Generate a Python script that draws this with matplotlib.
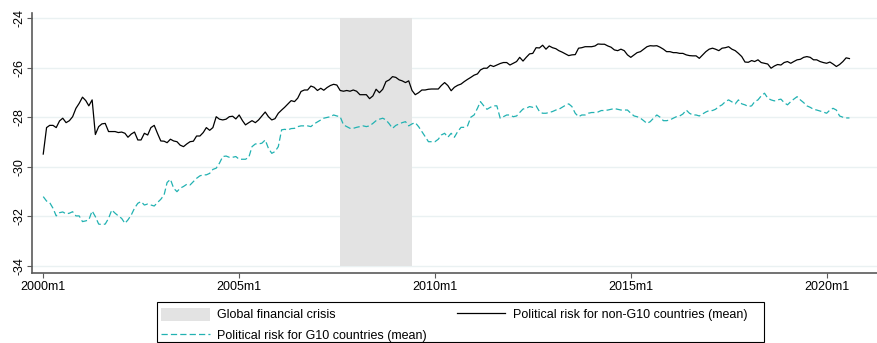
import pandas as pd
import matplotlib
matplotlib.use('Agg')
from matplotlib import pyplot as plt
from matplotlib.patches import Patch, Rectangle
from matplotlib.lines import Line2D

#
# monthly means
#
non_g10_2000s = [
    -29.49, -28.42, -28.33, -28.33, -28.42, -28.15, -28.04, -28.22, -28.14, -27.98,
    -27.64, -27.44, -27.19, -27.33, -27.54, -27.30, -28.70, -28.38, -28.27, -28.25,
    -28.58, -28.58, -28.58, -28.62, -28.60, -28.65, -28.81, -28.68, -28.60, -28.92,
    -28.92, -28.65, -28.72, -28.42, -28.33, -28.65, -28.96, -28.97, -29.03, -28.89,
    -28.96, -28.99, -29.13, -29.19, -29.08, -28.99, -28.97, -28.76, -28.76, -28.62,
    -28.42, -28.53, -28.42, -27.98, -28.08, -28.11, -28.08, -27.98, -27.96, -28.07,
    -27.91, -28.14, -28.31, -28.22, -28.14, -28.22, -28.11, -27.95, -27.79, -27.98,
    -28.11, -28.06, -27.84, -27.71, -27.60, -27.46, -27.33, -27.37, -27.23, -26.96,
    -26.90, -26.90, -26.74, -26.79, -26.92, -26.83, -26.91, -26.80, -26.72, -26.67,
    -26.70, -26.92, -26.95, -26.92, -26.95, -26.90, -26.95, -27.09, -27.09, -27.09,
    -27.25, -27.14, -26.87, -27.01, -26.87, -26.56, -26.49, -26.36, -26.39, -26.49,
    -26.53, -26.60, -26.53, -26.92, -27.09, -27.01, -26.90, -26.90, -26.87, -26.86,
]
non_g10_2010s = [
    -26.86, -26.86, -26.72, -26.60, -26.72, -26.93, -26.79, -26.71, -26.66, -26.56,
    -26.47, -26.39, -26.30, -26.25, -26.09, -26.02, -26.02, -25.90, -25.95, -25.89,
    -25.83, -25.79, -25.79, -25.89, -25.82, -25.75, -25.58, -25.73, -25.58, -25.44,
    -25.42, -25.19, -25.20, -25.09, -25.25, -25.12, -25.19, -25.23, -25.31, -25.37,
    -25.44, -25.51, -25.48, -25.47, -25.21, -25.19, -25.15, -25.15, -25.15, -25.12,
    -25.04, -25.05, -25.05, -25.12, -25.17, -25.28, -25.31, -25.25, -25.31, -25.48,
    -25.58, -25.48, -25.39, -25.35, -25.25, -25.15, -25.11, -25.12, -25.11, -25.17,
    -25.25, -25.35, -25.35, -25.39, -25.39, -25.42, -25.42, -25.48, -25.51, -25.52,
    -25.52, -25.62, -25.48, -25.35, -25.25, -25.21, -25.25, -25.31, -25.21, -25.19,
    -25.15, -25.25, -25.31, -25.42, -25.55, -25.77, -25.78, -25.71, -25.75, -25.68,
    -25.79, -25.82, -25.85, -26.02, -25.93, -25.87, -25.89, -25.79, -25.75, -25.82,
    -25.75, -25.68, -25.66, -25.58, -25.55, -25.58, -25.68, -25.68, -25.75, -25.79,
    -25.82, -25.77, -25.85, -25.95, -25.87, -25.75, -25.60, -25.63,
]

g10_2000s = [
    -31.21, -31.39, -31.45, -31.68, -31.99, -31.86, -31.83, -31.91, -31.88, -31.82,
    -31.99, -31.99, -32.22, -32.19, -32.15, -31.79, -32.02, -32.32, -32.34, -32.32,
    -32.09, -31.75, -31.88, -31.99, -32.09, -32.29, -32.15, -31.95, -31.68, -31.48,
    -31.41, -31.55, -31.51, -31.55, -31.59, -31.45, -31.32, -31.14, -30.64, -30.51,
    -30.87, -31.01, -30.87, -30.80, -30.71, -30.74, -30.60, -30.47, -30.37, -30.33,
    -30.33, -30.27, -30.11, -30.06, -29.86, -29.59, -29.57, -29.62, -29.62, -29.59,
    -29.70, -29.70, -29.70, -29.62, -29.19, -29.08, -29.08, -29.05, -28.92, -29.26,
    -29.46, -29.39, -29.19, -28.51, -28.49, -28.51, -28.46, -28.45, -28.38, -28.35,
    -28.35, -28.35, -28.38, -28.27, -28.19, -28.11, -28.04, -28.01, -27.98, -27.91,
    -27.95, -27.98, -28.31, -28.38, -28.45, -28.45, -28.41, -28.38, -28.35, -28.38,
    -28.35, -28.25, -28.14, -28.08, -28.04, -28.11, -28.27, -28.45, -28.33, -28.27,
    -28.22, -28.18, -28.35, -28.27, -28.22, -28.38, -28.58, -28.78, -28.99, -28.99,
]
g10_2010s = [
    -28.99, -28.89, -28.72, -28.65, -28.81, -28.65, -28.81, -28.58, -28.41, -28.41,
    -28.35, -28.00, -27.91, -27.64, -27.37, -27.54, -27.68, -27.60, -27.54, -27.54,
    -28.04, -27.98, -27.91, -27.91, -27.98, -27.95, -27.81, -27.67, -27.64, -27.57,
    -27.60, -27.54, -27.77, -27.84, -27.84, -27.81, -27.77, -27.71, -27.68, -27.60,
    -27.52, -27.46, -27.57, -27.84, -27.98, -27.91, -27.91, -27.84, -27.81, -27.81,
    -27.79, -27.73, -27.73, -27.71, -27.68, -27.65, -27.68, -27.71, -27.71, -27.71,
    -27.84, -27.95, -27.98, -28.04, -28.14, -28.25, -28.18, -28.04, -27.91, -28.00,
    -28.14, -28.14, -28.11, -28.04, -27.98, -27.95, -27.87, -27.71, -27.84, -27.91,
    -27.91, -27.95, -27.87, -27.79, -27.73, -27.73, -27.68, -27.57, -27.50, -27.37,
    -27.30, -27.38, -27.46, -27.30, -27.46, -27.50, -27.57, -27.54, -27.37, -27.30,
    -27.14, -27.03, -27.23, -27.30, -27.34, -27.30, -27.27, -27.41, -27.50, -27.37,
    -27.27, -27.17, -27.30, -27.41, -27.54, -27.60, -27.68, -27.71, -27.75, -27.79,
    -27.84, -27.71, -27.64, -27.71, -27.95, -28.00, -28.03, -28.03,
]

crisis_start = '2007-08-01'
crisis_end = '2009-06-01'
year_ticks = [2000, 2005, 2010, 2015, 2020]
y_ticks = [-24, -26, -28, -30, -32, -34]

non_g10 = non_g10_2000s + non_g10_2010s
g10 = g10_2000s + g10_2010s
dates = pd.date_range('2000-01-01', periods=len(non_g10), freq='MS')

plt.rcParams['font.family'] = ['Liberation Sans', 'DejaVu Sans']
axis_grey = '#5a5a5a'
teal = '#22b2b2'
fsize = 9
W, H = 877, 343

fig = plt.figure(figsize=(W / 100, H / 100), dpi=100)
ax = fig.add_axes([0.0361, 0.2032, 0.9639, 0.758])

# gridlines
for y in y_ticks:
    ax.axhline(y, color='#eaf1f2', lw=1.0, zorder=0)

# crisis shading
ax.fill_between(pd.to_datetime([crisis_start, crisis_end]), min(y_ticks), max(y_ticks),
                color='#e3e3e3', lw=0, zorder=1)

ax.plot(dates, g10, color=teal, lw=0.9, dashes=(5, 2.5), zorder=3)
ax.plot(dates, non_g10, color='black', lw=0.9, zorder=4)

ax.set_xlim(pd.Timestamp('1999-09-15'), pd.Timestamp('2021-04-15'))
ax.set_ylim(-34.31, -23.8)

ax.set_xticks([pd.Timestamp(str(y) + '-01-01') for y in year_ticks])
ax.set_xticklabels([str(y) + 'm1' for y in year_ticks])
ax.set_yticks(y_ticks)
ax.set_yticklabels([str(y) for y in y_ticks], rotation=90, va='center')

ax.tick_params(axis='both', labelsize=fsize, colors=axis_grey, labelcolor='black',
               length=3.5, width=0.8)
ax.tick_params(axis='x', pad=2.0)
ax.tick_params(axis='y', pad=1.0)

for side in ['top', 'right']:
    ax.spines[side].set_visible(False)
for side in ['left', 'bottom']:
    ax.spines[side].set_color(axis_grey)
    ax.spines[side].set_linewidth(1.2)

handles = [
    Patch(facecolor='#e3e3e3', edgecolor='none'),
    Line2D([], [], color=teal, lw=0.9, dashes=(5, 2.5)),
    Line2D([], [], color='black', lw=0.9),
]
labels = [
    'Global financial crisis',
    'Political risk for G10 countries (mean)',
    'Political risk for non-G10 countries (mean)',
]
leg = fig.legend(handles, labels, ncol=2, loc='upper left',
                 bbox_to_anchor=(157 / W, 1 - 304 / H), fontsize=fsize,
                 frameon=False,
                 handlelength=3.9, handleheight=1.2, handletextpad=0.6,
                 columnspacing=2.4, labelspacing=0.6, borderpad=0.3,
                 borderaxespad=0)

# legend box drawn by hand, Stata-style wide right margin
fig.patches.append(Rectangle((157 / W, 1 - 342 / H), (764 - 157) / W, 40 / H,
                             transform=fig.transFigure, fill=False,
                             edgecolor='black', lw=0.8))

fig.savefig('out.png', dpi=100)
